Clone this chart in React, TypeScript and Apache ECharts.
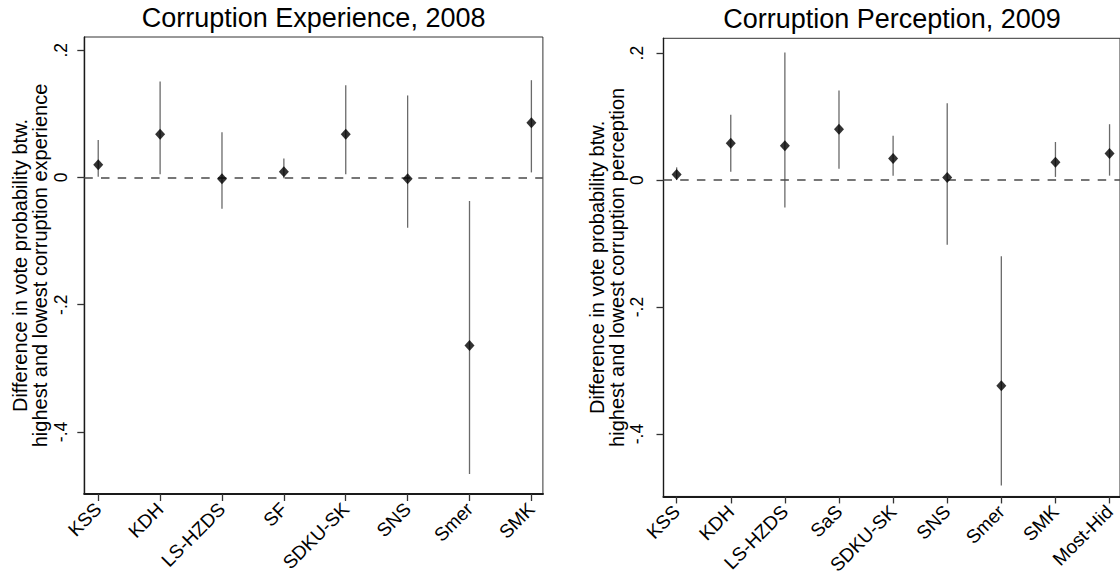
import React, { useEffect, useRef } from "react";
import * as echarts from "echarts";

// ---------- Data ----------
const categoriesExp = ["KSS", "KDH", "LS-HZDS", "SF", "SDKU-SK", "SNS", "Smer", "SMK"];
const estimateExp = [0.020, 0.068, -0.002, 0.009, 0.068, -0.002, -0.264, 0.086];
const lowerExp = [0.001, 0.005, -0.049, -0.001, 0.005, -0.079, -0.466, 0.008];
const upperExp = [0.059, 0.151, 0.071, 0.030, 0.145, 0.129, -0.037, 0.153];

const categoriesPer = ["KSS", "KDH", "LS-HZDS", "SaS", "SDKU-SK", "SNS", "Smer", "SMK", "Most-Hid"];
const estimatePer = [0.009, 0.058, 0.054, 0.080, 0.034, 0.004, -0.324, 0.028, 0.042];
const lowerPer = [0.000, 0.013, -0.043, 0.018, 0.007, -0.102, -0.481, 0.005, 0.007];
const upperPer = [0.020, 0.103, 0.201, 0.141, 0.070, 0.121, -0.120, 0.060, 0.088];

const yTickValues = [-0.4, -0.2, 0, 0.2];
const yTickLabels = ["-.4", "-.2", "0", ".2"];

const titleExp = "Corruption Experience, 2008";
const titlePer = "Corruption Perception, 2009";
const yNameExp = "Difference in vote probability btw.\nhighest and lowest corruption experience";
const yNamePer = "Difference in vote probability btw.\nhighest and lowest corruption perception";

const FONT = "'Liberation Sans', Arial, Helvetica, sans-serif";

function yLabel(v: number): string {
  for (let i = 0; i < yTickValues.length; i++) {
    if (Math.abs(yTickValues[i] - v) < 1e-9) return yTickLabels[i];
  }
  return "";
}

function makeX(gridIndex: number, cats: string[], min: number, max: number) {
  const idx = cats.map((_, i) => i);
  return {
    type: "value",
    gridIndex,
    min,
    max,
    axisLine: { show: true, onZero: false, lineStyle: { color: "#1a1a1a", width: 2.2 } },
    axisTick: { show: true, customValues: idx, length: 7, lineStyle: { color: "#333", width: 1.3 } },
    axisLabel: {
      show: true,
      customValues: idx,
      formatter: (v: number) => cats[Math.round(v)] ?? "",
      rotate: 45,
      fontSize: 19,
      color: "#000",
      margin: 12,
      fontFamily: FONT,
    },
    splitLine: { show: false },
  };
}

function makeY(gridIndex: number, min: number, max: number, name: string, labelMargin: number, nameGap: number) {
  return {
    type: "value",
    gridIndex,
    min,
    max,
    name,
    nameLocation: "middle",
    nameGap,
    nameTextStyle: { fontSize: 20, lineHeight: 20, color: "#000", fontFamily: FONT },
    axisLine: { show: true, onZero: false, lineStyle: { color: "#1a1a1a", width: 1.4 } },
    axisTick: { show: true, customValues: yTickValues, length: 7, lineStyle: { color: "#333", width: 1.3 } },
    axisLabel: {
      show: true,
      customValues: yTickValues,
      formatter: (v: number) => yLabel(v),
      rotate: 90,
      fontSize: 17.5,
      color: "#000",
      margin: labelMargin,
      fontFamily: FONT,
    },
    splitLine: { show: false },
  };
}

function errorSeries(idx: number, lower: number[], upper: number[]) {
  return {
    type: "custom",
    xAxisIndex: idx,
    yAxisIndex: idx,
    z: 2,
    data: lower.map((lo, i) => [i, lo, upper[i]]),
    encode: { x: 0, y: [1, 2] },
    renderItem: (params: any, api: any) => {
      const x = api.value(0);
      const p1 = api.coord([x, api.value(1)]);
      const p2 = api.coord([x, api.value(2)]);
      return {
        type: "line",
        shape: { x1: p1[0], y1: p1[1], x2: p2[0], y2: p2[1] },
        style: { stroke: "#6a6a6a", lineWidth: 1.3 },
      };
    },
    markLine: {
      silent: true,
      symbol: "none",
      label: { show: false },
      lineStyle: { type: [8.5, 8.2], color: "#4a4a4a", width: 1.5 },
      data: [{ yAxis: 0 }],
    },
  };
}

function pointSeries(idx: number, est: number[]) {
  return {
    type: "scatter",
    xAxisIndex: idx,
    yAxisIndex: idx,
    z: 5,
    symbol: "diamond",
    symbolSize: [10, 11],
    itemStyle: { color: "#000" },
    data: est.map((v, i) => [i, v]),
  };
}

export default function App() {
  const ref = useRef<HTMLDivElement>(null);

  useEffect(() => {
    if (!ref.current) return;
    const chart = echarts.init(ref.current, undefined, { renderer: "svg" });
    const option: any = {
      animation: false,
      backgroundColor: "#ffffff",
      textStyle: { fontFamily: FONT },
      title: [
        {
          text: titleExp,
          left: 313.6,
          top: 4,
          padding: 0,
          textAlign: "center",
          textStyle: { fontSize: 27, fontWeight: "normal", color: "#000", fontFamily: FONT },
        },
        {
          text: titlePer,
          left: 892,
          top: 5.5,
          padding: 0,
          textAlign: "center",
          textStyle: { fontSize: 27, fontWeight: "normal", color: "#000", fontFamily: FONT },
        },
      ],
      grid: [
        { left: 84.3, top: 37, width: 458.6, height: 457, show: true, borderColor: "#333", borderWidth: 1, backgroundColor: "transparent" },
        { left: 663.5, top: 38.3, width: 457.5, height: 459, show: true, borderColor: "#333", borderWidth: 1, backgroundColor: "transparent" },
      ],
      xAxis: [makeX(0, categoriesExp, -0.225, 7.186), makeX(1, categoriesPer, -0.243, 8.193)],
      yAxis: [
        makeY(0, -0.4976, 0.2209, yNameExp, 14, 34),
        makeY(1, -0.4982, 0.2233, yNamePer, 18, 35),
      ],
      series: [
        errorSeries(0, lowerExp, upperExp),
        pointSeries(0, estimateExp),
        errorSeries(1, lowerPer, upperPer),
        pointSeries(1, estimatePer),
      ],
    };
    chart.setOption(option);
    return () => chart.dispose();
  }, []);

  return (
    <div
      ref={ref}
      style={{ position: "fixed", left: 0, top: 0, width: 1120, height: 577, background: "#fff" }}
    />
  );
}
